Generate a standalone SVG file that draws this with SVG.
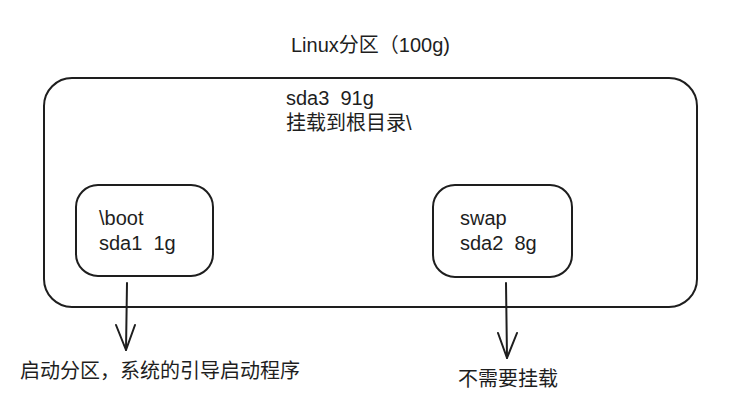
<svg xmlns="http://www.w3.org/2000/svg" width="730" height="412" viewBox="0 0 730 412">
  <defs>
    <style>
      .box { fill: none; stroke: #1e1e1e; stroke-width: 2; stroke-linecap: round; stroke-linejoin: round; }
      .edge { fill: none; stroke: #1e1e1e; stroke-width: 2; stroke-linecap: round; stroke-linejoin: round; }
      .t { font-family: "Liberation Sans", "Noto Sans CJK SC", sans-serif; font-size: 20px; fill: #1e1e1e; white-space: pre; }
    </style>
  </defs>
  <rect width="730" height="412" fill="#ffffff"/>
  <text class="t" x="291" y="52">Linux分区（100g)</text>
  <g id="outer">
    <rect class="box" x="44" y="78" width="653" height="229" rx="28" ry="28"/>
    <text class="t" x="286" y="105" xml:space="preserve">sda3  91g</text>
    <text class="t" x="286" y="130">挂载到根目录\</text>
  </g>
  <g id="boot">
    <rect class="box" x="76" y="185" width="137" height="91" rx="22" ry="22"/>
    <text class="t" x="99" y="225">\boot</text>
    <text class="t" x="99" y="250" xml:space="preserve">sda1  1g</text>
  </g>
  <g id="swap">
    <rect class="box" x="433" y="185" width="139" height="92" rx="22" ry="22"/>
    <text class="t" x="460" y="225">swap</text>
    <text class="t" x="460" y="250" xml:space="preserve">sda2  8g</text>
  </g>
  <g id="connectors">
    <path class="edge" d="M127 283 L126 350"/>
    <path class="edge" d="M116 325 L126 350 L135 325"/>
    <path class="edge" d="M506 283 L507 358"/>
    <path class="edge" d="M498 333 L507 358 L517 333"/>
  </g>
  <g id="label-boot">
    <text class="t" x="20" y="378">启动分区，系统的引导启动程序</text>
  </g>
  <g id="label-swap">
    <text class="t" x="458" y="386">不需要挂载</text>
  </g>
</svg>
